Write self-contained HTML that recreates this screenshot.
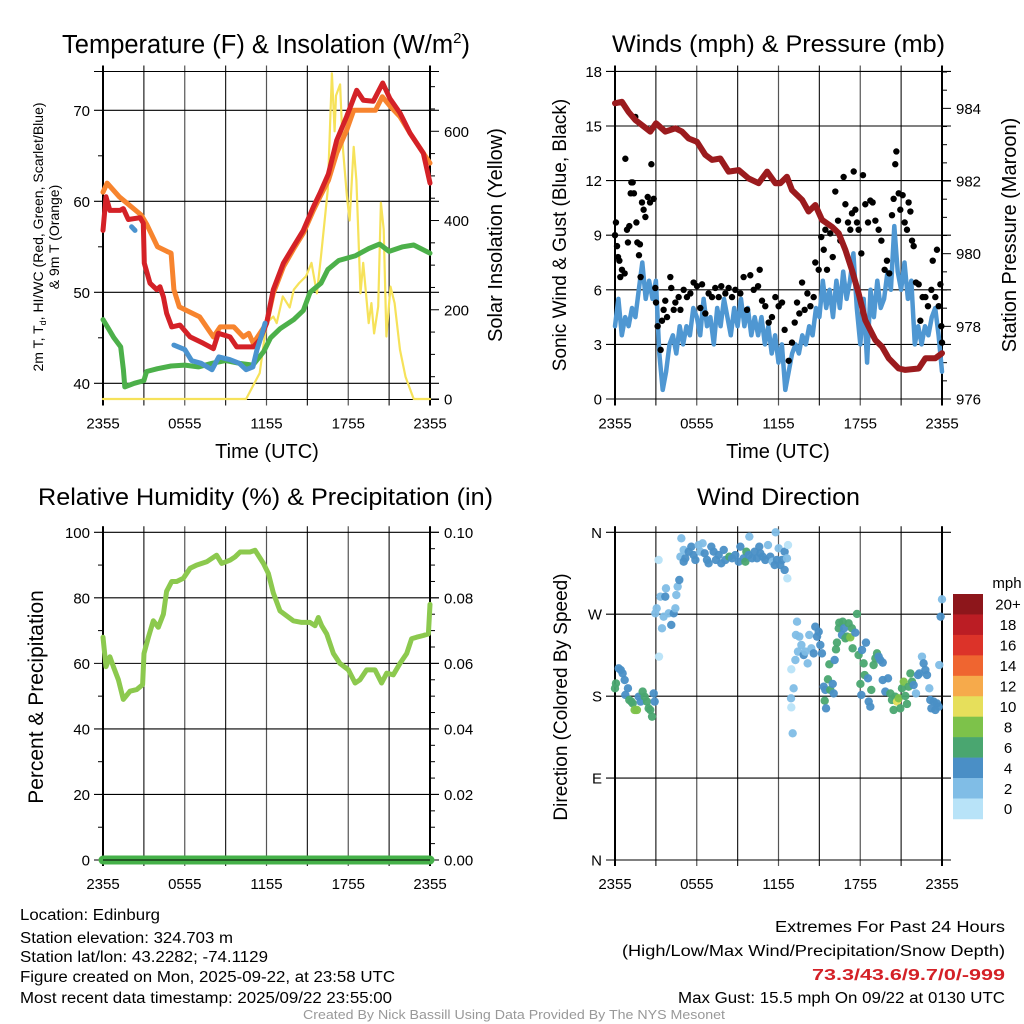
<!DOCTYPE html>
<html><head><meta charset="utf-8">
<style>
html,body{margin:0;padding:0;background:#fff;}
svg{display:block;font-family:"Liberation Sans",sans-serif;}
</style></head>
<body>
<svg id="fig" xmlns="http://www.w3.org/2000/svg" width="1024" height="1024" viewBox="0 0 1024 1024">
<rect x="0" y="0" width="1024" height="1024" fill="#fff"/>
</svg>
<script>
// ---------------- DATA ----------------
const xTickLabels = ["2355","0555","1155","1755","2355"];
const xTickHours = [0,6,12,18,24];
const gridHours = [0,3,6,9,12,15,18,21,24];

const tempLeftTicks = [40,50,60,70];
const solarTicks = [0,200,400,600];
const windTicks = [0,3,6,9,12,15,18];
const pressTicks = [976,978,980,982,984];
const rhTicks = [0,20,40,60,80,100];
const precipTicks = ["0.00","0.02","0.04","0.06","0.08","0.10"];
const dirTicks = [0,90,180,270,360];
const dirTickLabels = ["N","E","S","W","N"];

const redHours = [0,0.22,0.51,1.25,1.49,1.86,2.72,2.96,3.03,3.45,3.94,4.18,4.43,4.67,5.04,5.65,6.39,7.36,8.1,8.46,9.32,9.81,11.03,11.52,12.01,12.5,13.24,13.97,14.7,15.44,15.93,16.54,17.15,17.88,18.62,19.11,19.84,20.53,21.06,21.8,22.53,23.51,24];
const redTemp = [56.8,60.5,59,59,59.2,58,58.2,57.6,53.2,51,50.3,50.6,49.5,47.7,46.2,46.4,45.1,44.4,43.8,45.5,45.1,44,44,44.8,46.6,50.3,53.2,55,56.8,59.4,60.9,63,66.7,69.3,72.2,71.1,71,73,71.3,69.7,67.5,65.3,62];

const orangeHours = [0,0.3,1.2,2,2.8,3.2,4,4.7,5.0,5.2,5.6,6.4,7.1,8.1,8.6,9.6,10.3,10.7,11.03,12.01,12.5,13.24,13.97,14.7,15.44,15.93,16.54,17.15,17.88,18.4,20,20.5,21.1,21.8,22.53,23.51,24];
const orangeTemp = [61,62,60.5,59.5,58.5,57.5,55,54.5,54.3,50.3,48.4,47.8,47.3,45.1,46.2,46.2,45.1,45.5,44.4,46.6,49.9,52.8,54.7,56.5,59,60.5,62.3,65.3,67.8,70,70,71.5,70.4,69.3,67.5,65.3,64.2];

const greenHours = [0,0.4,0.8,1.3,1.5,1.6,2.3,3,3.2,4,5,6,7,8,9,10,11,11.8,12.3,13,14,14.7,15.2,16,16.5,17.3,18.5,19.5,20.3,21,22,22.8,24];
const greenTemp = [47,46,45,44,41.5,39.6,40,40.3,41.3,41.6,41.9,42,41.8,42.2,42.5,42.2,42,43.5,45,46,47,48,50,51,52.5,53.5,54,54.8,55.3,54.5,55,55.2,54.3];

const hiSeg1Hours = [2.1,2.35];
const hiSeg1Temp = [57.2,56.8];
const hiSeg2Hours = [5.2,6,6.5,7.2,8,8.5,9.3,10,10.5,11,11.3,11.6,11.9];
const hiSeg2Temp = [44.2,43.7,42.5,42.2,41.5,42.9,42.6,42.2,41.5,41.8,43.7,45.1,46.6];

const solarHours = [0,10.5,11.5,12,12.5,12.75,13.2,13.7,14,14.4,14.9,15.3,15.7,16,16.3,16.5,16.8,17,17.1,17.4,17.6,17.9,18.1,18.4,18.6,18.9,19.1,19.5,19.7,19.9,20.2,20.4,20.6,20.8,21.1,21.4,21.8,22.2,22.8,24];
const solarVals = [0,0,58,170,185,170,230,205,245,260,275,305,237,320,410,470,730,600,680,705,565,455,400,565,490,237,305,170,215,147,207,440,380,140,252,215,110,50,0,0];

const windHours = Array.from({length:97},(_,i)=>i*0.25);
const windVals = [4,5.5,3.5,4.5, 4,5,4.5,6, 7.5,5.5,6.5,5.5, 6.5,2.5,0.5,1.5, 3,3.5,2.5,4, 3,4,3.5,5, 4.5,3.5,5.5,4, 4.5,3,5,4, 5.5,4.5,3.5,5, 4,5.5,4,5, 3.5,4.5,3.5,4.5, 3,4,2.5,3.5, 2,3,0.5,1.5, 2.5,3,2.5,3.5, 3,4,3.5,5, 4.5,6.5,5,6, 4.5,6.5,5,7, 5.5,6.5,8,5, 3,5.5,2,6, 4.5,6.5,5,5.5, 7,6,9.5,7, 6,7.5,5.5,6.5, 3,4,3,4, 3.5,4.5,5,3.5, 1.5];

const gustHours = [0,0.07,0.15,0.22,0.32,0.39,0.51,0.71,0.76,0.88,0.95,1.05,1.15,1.2,1.3,1.39,1.49,1.57,1.64,1.76,1.83,1.88,1.98,2.1,2.23,2.4,2.57,2.67,2.84,2.96,3.01,3.13,3.35,3.45,3.57,3.69,3.82,4.06,4.13,4.31,4.43,4.67,4.8,5.04,5.28,5.53,5.77,6.02,6.26,6.39,6.63,6.87,7.12,7.36,7.61,7.8,8.1,8.34,8.59,8.83,9.2,9.44,9.69,9.93,10.18,10.5,10.62,10.79,11.03,11.28,11.52,11.77,12.01,12.26,12.45,12.75,12.99,13.19,13.36,13.53,13.73,13.92,14.12,14.34,14.58,14.7,14.95,15.14,15.32,15.44,15.56,15.8,15.98,16.17,16.37,16.54,16.78,16.91,17.1,17.27,17.39,17.52,17.64,17.76,17.88,18.08,18.2,18.37,18.57,18.74,18.91,19.11,19.35,19.55,19.79,19.96,20.13,20.33,20.45,20.57,20.65,20.82,20.94,21.11,21.26,21.43,21.55,21.68,21.8,21.92,22.09,22.29,22.41,22.58,22.78,22.97,23.22,23.32,23.51,23.63,23.76,23.88,23.95,24];
const gustVals = [9.0,9.7,8.4,7.8,7.6,6.7,7.1,6.9,13.2,9.3,8.6,9.5,11.3,11.9,11.9,11.3,15.5,9.7,8.6,7.9,8.5,6.7,10.8,10.4,10.0,11.1,10.8,12.9,11.0,6.1,5.3,4.0,2.7,4.3,4.9,5.4,4.5,6.7,6.1,4.9,5.3,5.6,4.9,6.0,5.6,5.8,6.4,6.2,5.0,6.3,4.7,5.8,5.6,6.1,5.6,6.2,5.8,6.1,5.6,6.0,5.8,6.7,4.9,6.8,6.0,6.2,7.1,5.4,5.1,4.2,4.5,5.6,5.1,5.3,3.8,2.1,3.1,4.2,5.3,4.7,6.4,4.9,5.8,5.1,5.6,7.5,7.1,8.9,8.2,9.3,7.1,9.1,7.8,11.4,9.8,8.7,12.2,10.7,9.7,9.3,10.2,12.5,10.4,9.7,9.3,8.0,12.3,10.7,9.7,10.9,10.8,9.8,9.3,8.7,7.1,7.6,6.9,10.1,11.0,12.9,13.6,11.3,10.4,11.2,9.7,9.3,10.8,10.3,8.7,8.4,6.4,6.3,4.3,5.6,5.6,5.1,6.0,7.6,5.6,8.2,5.1,6.3,4.0,3.1];

const pressHours = [0,0.51,1.0,1.49,1.98,2.59,3.01,3.69,4.43,4.92,5.41,6.02,6.63,7.12,7.73,8.34,9.08,9.81,10.54,11.16,11.77,12.13,12.62,12.99,13.73,14.21,14.7,15.19,15.93,16.42,16.91,17.39,17.88,18.37,19.11,19.6,20.09,20.82,21.31,22.29,22.78,23.51,24];
const pressVals = [984.14,984.18,983.9,983.68,983.54,983.36,983.59,983.36,983.45,983.36,983.17,983.08,982.72,982.58,982.62,982.26,982.3,982.07,981.94,982.26,981.94,981.94,982.12,981.75,981.48,981.16,981.34,980.93,980.74,980.56,980.1,979.55,978.91,978.17,977.62,977.44,977.12,976.84,976.8,976.84,977.12,977.12,977.26];

const rhHours = [0,0.22,0.51,0.76,1.13,1.49,1.98,2.47,2.91,3.01,3.33,3.69,4.06,4.43,4.67,5.04,5.41,5.9,6.39,6.87,7.61,8.34,8.71,9.32,9.69,10.06,10.79,11.16,11.77,12.13,12.5,12.99,13.48,13.97,14.58,15.19,15.56,15.8,16.05,16.42,16.91,17.39,18.01,18.5,18.86,19.35,19.96,20.45,20.82,21.31,21.8,22.29,22.65,23.02,23.51,23.88,24];
const rhVals = [68,59,62,59,55,49,51.5,52,53.5,63,68,73,71,75,82,85,85,86,89,90,91,93,90.5,91.5,92.5,94,94,94.5,90.5,87.5,81.5,76,74.5,73,72.5,72.5,71.5,74,71.5,69,63,60,58,54,55,58,58,54,57,56.5,60,63,67.5,68,68.5,69,78];

const precipHours = [0,24];
const precipVals = [0,0];

const dirHours = [0,0.07,0.27,0.42,0.56,0.71,0.76,0.95,1.05,1.2,1.3,1.44,1.61,1.74,1.88,2.03,2.18,2.35,2.47,2.59,2.72,2.84,2.91,2.96,3.06,3.2,3.23,3.33,3.45,3.57,3.69,3.74,3.94,4.13,4.31,4.43,4.5,4.6,4.72,4.87,4.8,5.04,5.04,5.16,5.41,5.6,5.77,5.9,6.14,6.26,6.43,6.58,6.75,6.87,7.07,7.24,7.41,7.61,7.8,7.98,8.1,8.39,8.59,8.83,9.08,9.2,9.44,9.57,9.64,9.81,9.86,10.06,10.25,10.42,10.59,10.67,10.84,11.03,11.23,11.4,11.57,11.72,11.79,11.89,12.01,12.13,12.26,12.45,12.45,12.62,12.7,12.65,12.94,12.94,12.92,13.04,13.11,13.24,13.36,13.28,13.43,13.53,13.68,13.85,13.97,14.14,14.26,14.41,14.58,14.7,14.83,14.95,15.07,15.19,15.32,15.44,15.39,15.49,15.63,15.73,15.8,15.98,16.05,16.12,16.22,16.29,16.42,16.46,16.66,16.71,16.81,16.91,17.03,17.15,17.27,17.39,17.44,17.64,17.76,17.88,18.01,18.08,18.13,18.25,18.32,18.42,18.57,18.62,18.74,18.81,18.98,19.11,19.23,19.35,19.47,19.65,19.65,19.84,20.04,20.21,20.33,20.45,20.57,20.7,20.82,20.94,21.06,21.19,21.31,21.43,21.55,21.68,21.8,21.92,22.09,22.24,22.34,22.53,22.65,22.78,22.9,23.07,23.14,23.22,23.39,23.51,23.63,23.76,23.8,23.9,24];
const dirDegrees = [188.6,194,210.6,208.7,205,197.7,181.3,188.6,175.8,174,172,164.8,164.8,179.4,174,185,179.4,174,166.6,164.8,157.5,183,174,271,276.5,329.6,223.4,289.3,254.5,267.3,289.3,298.4,271,258.2,271,276.5,291.1,300.3,307.6,353.4,333.2,340.6,327.7,331.4,338.7,344.2,335,329.6,346,338.7,347.9,336.9,329.6,325.9,344.2,338.7,329.6,335,325.9,340.6,329.6,333.2,331.4,335,327.7,344.2,331.4,327.7,338.7,335,355.2,331.4,338.7,331.4,344.2,336.9,333.2,329.6,346,333.2,327.7,324,360,329.6,342.4,324,329.6,338.7,318.6,331.4,346,309.4,209.5,167.7,177.6,139.2,188.6,219.7,261.8,247.2,228.9,245.4,236.2,225.2,228.9,216,247.2,232.5,227,256.3,245.4,250.8,236.2,227,190.4,186.8,175,166.6,198.5,215,186.8,193.4,183,219.7,231.4,238.8,254.5,260.7,247.2,261.8,254.5,243.5,245.4,260,244.6,254.5,232.5,249.7,270.3,225.2,193.4,181.3,230.7,216,203.2,238.8,199.6,174,168.4,186.8,214.2,221.5,227,223.4,219.7,216.8,197.7,185,199.6,183,175.8,164.8,179.4,174,177.6,166.6,188.6,195.9,180.2,171.4,190.4,205,195.9,192.2,183,203.2,205,223.4,216,208.7,203.2,188.6,175.8,166.6,174,164.8,172,168.4,214.2,267.3,286.4];
const dirSpeeds = [7,7,5,5,5,5,5,5,7,7,7,9,9,5,5,7,7,7,7,7,7,5,5,3,3,1,1,3,3,3,5,3,3,5,5,3,3,3,5,3,3,3,5,5,5,5,5,5,3,3,3,5,5,5,5,5,5,5,5,5,5,7,5,5,5,5,5,7,7,5,3,5,5,5,5,5,5,5,3,5,3,5,3,5,3,5,5,5,5,3,1,1,1,1,3,3,3,3,3,3,3,3,3,5,3,3,3,3,5,5,5,5,5,5,5,5,7,5,7,7,7,5,5,5,7,7,7,7,5,7,5,7,7,7,9,7,7,5,7,7,7,5,5,7,7,5,5,5,5,7,7,7,7,5,5,5,5,5,5,7,7,7,7,11,9,7,7,9,7,7,7,7,7,5,3,5,5,3,5,5,5,3,5,5,5,5,5,5,3,5,3];

const cbLabels = ["20+","18","16","14","12","10","8","6","4","2","0"];
const cbColors = ["#8d161b","#bb1d24","#dc3329","#ef6530","#f6aa4b","#e6df5b","#7dc24a","#4aa670","#4a8fc6","#80bde6","#b8e3f8"];

// ---------------- DRAWING ----------------
const NS="http://www.w3.org/2000/svg";
const svg=document.getElementById('fig');
function el(tag,attrs,parent){const e=document.createElementNS(NS,tag);for(const k in attrs)e.setAttribute(k,attrs[k]);(parent||svg).appendChild(e);return e;}
function txt(s,attrs,parent){const e=el('text',attrs,parent);e.textContent=s;return e;}

const PX0=103, PX1=430;
function xS(h,off){return off+PX0+h/24*(PX1-PX0);}
const TOP_Y0=71.5, TOP_Y1=399.5, BOT_Y0=532.3, BOT_Y1=860;

function tS(v){return 383.3-(v-40)*9.1;}
function sS(w){return 399-w*0.4462;}
function wS(m){return 399-m*18.2;}
function pS(p){return 399-(p-976)*36.33;}
function rS(v){return BOT_Y1-v*3.277;}
function prS(v){return BOT_Y1-v*3277;}
function dS(d){return BOT_Y1-d/360*(BOT_Y1-BOT_Y0);}

function frame(off,y0,y1,name){
  const g=el('g',{});
  
  
  gridHours.forEach(h=>{
    const x=xS(h,off);
    const ln=el('line',{x1:x,y1:y0-6,x2:x,y2:y1+6,stroke:(h%6===0?'#555':'#222'),'stroke-width':1.2},g);
    
    
  });
  xTickHours.forEach((h,i)=>{
    const t=txt(xTickLabels[i],{x:xS(h,off),y:(y1+29),'font-size':15,'text-anchor':'middle',fill:'#000'},g);
    
    
  });
  return g;
}
function hgrid(g,off,y){
  const l=el('line',{x1:off+PX0-9,y1:y,x2:off+PX1+9,y2:y,stroke:'#000','stroke-width':1.1},g);
  
  
}
function leftLabel(g,off,y,s,name){
  const t=txt(s,{x:off+PX0-13,y:y+5.5,'font-size':15,'text-anchor':'end'},g);
  
  
}
function rightTick(g,off,y,s,minor,name){
  el('line',{x1:off+PX1,y1:y,x2:off+PX1+(minor?5:9),y2:y,stroke:'#000','stroke-width':1},g);
  if(s!==null){
    const t=txt(s,{x:off+PX1+14,y:y+5.5,'font-size':15,'text-anchor':'start'},g);
    
    
  }
}
function leftMinor(g,off,y){el('line',{x1:off+PX0-5,y1:y,x2:off+PX0,y2:y,stroke:'#000','stroke-width':1},g);}
function border(g,off,y0,y1){
  el('line',{x1:off+PX0,y1:y0-6,x2:off+PX0,y2:y1+6,stroke:'#000','stroke-width':2},g);
  el('line',{x1:off+PX1,y1:y0-6,x2:off+PX1,y2:y1+6,stroke:'#000','stroke-width':2},g);
}
function path(hours,vals,off,ys,color,w,name,parent){
  let d='';
  hours.forEach((h,i)=>{d+=(i?'L':'M')+xS(h,off).toFixed(1)+' '+ys(vals[i]).toFixed(1);});
  const p=el('path',{d:d,fill:'none',stroke:color,'stroke-width':w,'stroke-linejoin':'round','stroke-linecap':'round'},parent);
  
  
  return p;
}
function title(s,x0,y,len,name){
  const t=txt(s,{x:x0,y:y,'font-size':24,textLength:len,lengthAdjust:'spacingAndGlyphs'});
  
  
  return t;
}
function vlabel(s,x,y,size,name){
  const t=txt(s,{x:0,y:0,'font-size':size,'text-anchor':'middle',transform:'translate('+x+','+y+') rotate(-90)'});
  
  
  return t;
}

// ===== Panel 1: Temperature =====
{
  const off=0;
  const g=frame(off,TOP_Y0,TOP_Y1,'temperature-panel');
  tempLeftTicks.forEach(v=>{hgrid(g,off,tS(v));leftLabel(g,off,tS(v),String(v),'temp-tick-label');});
  [45,55,65].forEach(v=>leftMinor(g,off,tS(v)));
  hgrid(g,off,TOP_Y0);
  el('line',{x1:off+PX0,y1:TOP_Y1,x2:off+PX1+9,y2:TOP_Y1,stroke:'#000','stroke-width':1.1},g);
  for(let w=0;w<=700;w+=50){rightTick(g,off,sS(w),solarTicks.includes(w)?String(w):null,!solarTicks.includes(w),'solar-tick-label');}
  border(g,off,TOP_Y0,TOP_Y1);
  const sg=el('g',{});
  
  
  path(solarHours,solarVals,off,sS,'#f6e25a',2.2,'solar-insolation-line',sg);
  path(greenHours,greenTemp,off,tS,'#4cb04a',5,'dewpoint-line',sg);
  path(orangeHours,orangeTemp,off,tS,'#f7842e',5,'temp-9m-line',sg);
  path(redHours,redTemp,off,tS,'#d42127',5,'temp-2m-line',sg);
  path(hiSeg1Hours,hiSeg1Temp,off,tS,'#4a93cf',5,'wind-chill-line',sg);
  path(hiSeg2Hours,hiSeg2Temp,off,tS,'#4a93cf',5,'wind-chill-line',sg);
  const t=txt('Temperature (F) & Insolation (W/m',{x:266,y:53,'font-size':25.5,'text-anchor':'middle'});
  
  
  const sup=el('tspan',{'font-size':15,dy:-10},t); sup.textContent='2';
  const cl=el('tspan',{'font-size':25.5,dy:10},t); cl.textContent=')';
  vlabel('Solar Insolation (Yellow)',502,235,20,'solar-axis-title');
  const yl=txt('',{x:0,y:0,'font-size':14,'text-anchor':'middle',transform:'translate(43,237) rotate(-90)'});
  
  
  const a=el('tspan',{},yl); a.textContent='2m T, T';
  const b=el('tspan',{'font-size':9,dy:3},yl); b.textContent='d';
  const c=el('tspan',{dy:-3},yl); c.textContent=', HI/WC (Red, Green, Scarlet/Blue)';
  const yl2=txt('& 9m T (Orange)',{x:0,y:0,'font-size':14,'text-anchor':'middle',transform:'translate(59,237) rotate(-90)'});
  
  
  const xt=txt('Time (UTC)',{x:267,y:458,'font-size':20,'text-anchor':'middle'});
  
  
}

// ===== Panel 2: Winds =====
{
  const off=512;
  const g=frame(off,TOP_Y0,TOP_Y1,'winds-panel');
  windTicks.forEach(v=>{hgrid(g,off,wS(v));leftLabel(g,off,wS(v),String(v),'wind-tick-label');});
  for(let p=976;p<=985.01;p+=0.5){const maj=pressTicks.includes(p);rightTick(g,off,pS(p),maj?String(p):null,!maj,'pressure-tick-label');}
  border(g,off,TOP_Y0,TOP_Y1);
  const sg=el('g',{});
  
  
  path(windHours,windVals,off,wS,'#4f97d2',4.5,'sonic-wind-line',sg);
  gustHours.forEach((h,i)=>{
    const c=el('circle',{cx:xS(h,off),cy:wS(gustVals[i]),r:3.2,fill:'#000'},sg);
    
    
  });
  path(pressHours,pressVals,off,pS,'#9b1b1e',6,'pressure-line',sg);
  title('Winds (mph) & Pressure (mb)',612,52,333,'winds-title');
  vlabel('Sonic Wind & Gust (Blue, Black)',566,235,19,'wind-axis-title');
  vlabel('Station Pressure (Maroon)',1016,235,20,'pressure-axis-title');
  const xt=txt('Time (UTC)',{x:778,y:458,'font-size':20,'text-anchor':'middle'});
  
  
}

// ===== Panel 3: RH =====
{
  const off=0;
  const g=frame(off,BOT_Y0,BOT_Y1,'humidity-panel');
  rhTicks.forEach(v=>{hgrid(g,off,rS(v));leftLabel(g,off,rS(v),String(v),'rh-tick-label');});
  [10,30,50,70,90].forEach(v=>leftMinor(g,off,rS(v)));
  for(let i=0;i<=20;i++){const v=i*0.005;const maj=i%4===0;rightTick(g,off,prS(v),maj?precipTicks[i/4]:null,!maj,'precip-tick-label');}
  border(g,off,BOT_Y0,BOT_Y1);
  const sg=el('g',{});
  
  
  path(rhHours,rhVals,off,rS,'#8cc94e',5,'relative-humidity-line',sg);
  path(precipHours,precipVals,off,prS,'#45b149',9,'precipitation-line',sg);
  el('line',{x1:PX0,y1:BOT_Y1,x2:PX1,y2:BOT_Y1,stroke:'#000','stroke-width':1},sg);
  title('Relative Humidity (%) & Precipitation (in)',38,505,455,'humidity-title');
  vlabel('Percent & Precipitation',43,697,21,'rh-axis-title');
}

// ===== Panel 4: Wind Direction =====
{
  const off=512;
  const g=frame(off,BOT_Y0,BOT_Y1,'wind-direction-panel');
  dirTicks.forEach((v,i)=>{hgrid(g,off,dS(v));leftLabel(g,off,dS(v),dirTickLabels[i],'direction-tick-label');});
  border(g,off,BOT_Y0,BOT_Y1);
  const sg=el('g',{});
  
  
  dirHours.forEach((h,i)=>{
    const bin=Math.min(10,Math.floor(dirSpeeds[i]/2));
    const c=el('circle',{cx:xS(h,off),cy:dS(dirDegrees[i]),r:4.2,fill:cbColors[10-bin],'fill-opacity':0.95},sg);
    
    
  });
  title('Wind Direction',697,505,163,'wind-direction-title');
  vlabel('Direction (Colored By Speed)',567,697,19,'direction-axis-title');
  const cb=el('g',{});
  
  
  const cb0=594, cbh=20.45;
  cbLabels.forEach((s,i)=>{
    const r=el('rect',{x:953,y:cb0+i*cbh,width:30,height:cbh+0.3,fill:cbColors[i]},cb);
    
    
    const t=txt(s,{x:1008,y:cb0+i*cbh+cbh/2+5.5,'font-size':15,'text-anchor':'middle'},cb);
    
    
  });
  const u=txt('mph',{x:1007,y:588,'font-size':15,'text-anchor':'middle'},cb);
  
  
}

// ===== Footer text =====
const leftLines=[["Location: Edinburg",920,140],["Station elevation: 324.703 m",943,213],["Station lat/lon: 43.2282; -74.1129",962,248],["Figure created on Mon, 2025-09-22, at 23:58 UTC",982,375],["Most recent data timestamp: 2025/09/22 23:55:00",1003,372]];
leftLines.forEach(l=>{
  const t=txt(l[0],{x:20,y:l[1],'font-size':15.5,textLength:l[2],lengthAdjust:'spacingAndGlyphs'});
  
  
});
const rightLines=[["Extremes For Past 24 Hours",932,230,'#000','normal'],["(High/Low/Max Wind/Precipitation/Snow Depth)",956,383,'#000','normal'],["73.3/43.6/9.7/0/-999",980,193,'#d42127','bold'],["Max Gust: 15.5 mph On 09/22 at 0130 UTC",1003,327,'#000','normal']];
rightLines.forEach(l=>{
  const t=txt(l[0],{x:1005-l[2],y:l[1],'font-size':15.5,fill:l[3],'font-weight':l[4],textLength:l[2],lengthAdjust:'spacingAndGlyphs'});
  
  
});
const cr=txt('Created By Nick Bassill Using Data Provided By The NYS Mesonet',{x:303,y:1019,'font-size':12.5,fill:'#999',textLength:422,lengthAdjust:'spacingAndGlyphs'});


</script>
</body></html>
